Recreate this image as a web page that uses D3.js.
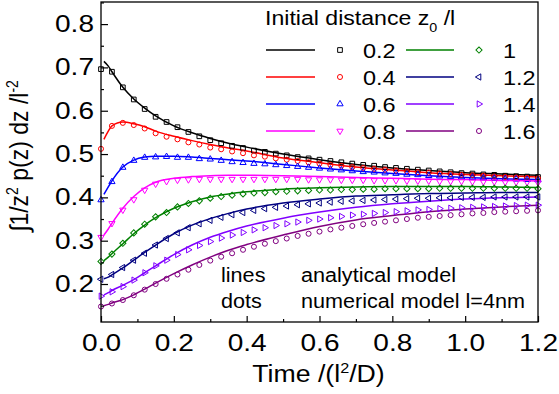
<!DOCTYPE html>
<html>
<head>
<meta charset="utf-8">
<script src="https://cdn.jsdelivr.net/npm/d3@7"></script>
<style>
  html, body { margin: 0; padding: 0; background: #fff; }
  svg { display: block; font-family: "Liberation Sans", Arial, Helvetica, sans-serif; }
</style>
</head>
<body>
<div id="chart"></div>
<script>
// ---------------- data ----------------
const seriesLabels = ["0.2", "0.4", "0.6", "0.8", "1", "1.2", "1.4", "1.6"];
const seriesColors = ["#000000", "#ff0000", "#0000ff", "#ff00ff", "#008000", "#000080", "#8000ff", "#800080"];
const seriesMarkers = ["square", "circle", "triUp", "triDown", "diamond", "triLeft", "triRight", "circle"];

// analytical model (lines)
const lineTimes = [0.008, 0.02, 0.03, 0.06, 0.09, 0.12, 0.15, 0.2, 0.25, 0.3, 0.35, 0.4, 0.5, 0.6, 0.7, 0.8, 0.9, 1.0, 1.1, 1.2];
const line02 = [0.714, 0.703, 0.690, 0.654, 0.627, 0.606, 0.588, 0.565, 0.549, 0.536, 0.525, 0.516, 0.500, 0.487, 0.476, 0.468, 0.462, 0.457, 0.454, 0.451];
const line04 = [0.534, 0.553, 0.565, 0.574, 0.570, 0.563, 0.553, 0.541, 0.531, 0.522, 0.514, 0.507, 0.491, 0.480, 0.470, 0.463, 0.457, 0.453, 0.450, 0.447];
const line06 = [0.407, 0.424, 0.438, 0.470, 0.486, 0.493, 0.495, 0.495, 0.493, 0.490, 0.487, 0.484, 0.476, 0.468, 0.461, 0.455, 0.450, 0.446, 0.443, 0.441];
const line08 = [0.313, 0.327, 0.340, 0.375, 0.402, 0.422, 0.435, 0.444, 0.448, 0.450, 0.451, 0.451, 0.450, 0.448, 0.446, 0.444, 0.442, 0.441, 0.439, 0.438];
const line10 = [0.254, 0.262, 0.270, 0.293, 0.316, 0.336, 0.353, 0.375, 0.390, 0.401, 0.408, 0.413, 0.419, 0.422, 0.424, 0.425, 0.425, 0.425, 0.424, 0.423];
const line12 = [0.212, 0.216, 0.221, 0.237, 0.255, 0.273, 0.290, 0.316, 0.336, 0.351, 0.363, 0.373, 0.387, 0.396, 0.403, 0.406, 0.409, 0.410, 0.411, 0.411];
const line14 = [0.175, 0.180, 0.185, 0.197, 0.210, 0.226, 0.242, 0.268, 0.290, 0.308, 0.322, 0.334, 0.352, 0.366, 0.377, 0.385, 0.391, 0.396, 0.399, 0.401];
const line16 = [0.150, 0.153, 0.156, 0.164, 0.175, 0.188, 0.202, 0.224, 0.244, 0.262, 0.278, 0.291, 0.313, 0.333, 0.348, 0.358, 0.367, 0.373, 0.378, 0.382];

// numerical model l=4nm (dots)
const dotTimes = [0, 0.03, 0.06, 0.09, 0.12, 0.15, 0.18, 0.21, 0.24, 0.27, 0.30, 0.33, 0.36, 0.39, 0.42, 0.45,
  0.48, 0.51, 0.54, 0.57, 0.60, 0.63, 0.66, 0.69, 0.72, 0.75, 0.78, 0.81, 0.84, 0.87, 0.90, 0.93, 0.96, 0.99,
  1.02, 1.05, 1.08, 1.11, 1.14, 1.17, 1.20];
const dot02 = [0.696, 0.690, 0.654, 0.626, 0.604, 0.586, 0.574, 0.562, 0.551, 0.541, 0.532, 0.525, 0.519, 0.514, 0.508, 0.505,
  0.501, 0.497, 0.493, 0.490, 0.487, 0.484, 0.481, 0.478, 0.475, 0.473, 0.470, 0.468, 0.466, 0.464, 0.462, 0.460, 0.458, 0.456,
  0.455, 0.453, 0.452, 0.450, 0.449, 0.448, 0.447];
const dot04 = [0.512, 0.565, 0.572, 0.567, 0.559, 0.548, 0.540, 0.534, 0.527, 0.522, 0.515, 0.511, 0.506, 0.502, 0.497, 0.494,
  0.490, 0.487, 0.484, 0.481, 0.478, 0.475, 0.473, 0.470, 0.468, 0.466, 0.464, 0.462, 0.460, 0.458, 0.457, 0.455, 0.454, 0.452,
  0.451, 0.450, 0.448, 0.447, 0.446, 0.445, 0.444];
const dot06 = [0.394, 0.436, 0.469, 0.485, 0.492, 0.493, 0.494, 0.492, 0.492, 0.489, 0.488, 0.485, 0.482, 0.480, 0.478, 0.477,
  0.475, 0.473, 0.471, 0.469, 0.467, 0.465, 0.463, 0.461, 0.459, 0.458, 0.456, 0.455, 0.453, 0.452, 0.450, 0.449, 0.448, 0.447,
  0.446, 0.445, 0.444, 0.443, 0.442, 0.441, 0.440];
const dot08 = [0.308, 0.340, 0.371, 0.395, 0.417, 0.431, 0.437, 0.440, 0.441, 0.442, 0.442, 0.442, 0.442, 0.442, 0.442, 0.442,
  0.442, 0.442, 0.442, 0.441, 0.441, 0.441, 0.440, 0.440, 0.440, 0.439, 0.439, 0.439, 0.438, 0.438, 0.438, 0.437, 0.437, 0.437,
  0.436, 0.436, 0.436, 0.435, 0.435, 0.435, 0.434];
const dot10 = [0.252, 0.269, 0.294, 0.318, 0.338, 0.355, 0.365, 0.378, 0.386, 0.392, 0.398, 0.402, 0.405, 0.408, 0.410, 0.411,
  0.413, 0.414, 0.415, 0.416, 0.417, 0.417, 0.418, 0.418, 0.419, 0.419, 0.420, 0.420, 0.420, 0.420, 0.420, 0.421, 0.421, 0.421,
  0.421, 0.421, 0.421, 0.421, 0.421, 0.421, 0.420];
const dot12 = [0.211, 0.222, 0.238, 0.255, 0.271, 0.290, 0.305, 0.318, 0.330, 0.339, 0.347, 0.354, 0.360, 0.365, 0.370, 0.374,
  0.377, 0.380, 0.383, 0.385, 0.387, 0.389, 0.391, 0.392, 0.393, 0.394, 0.395, 0.396, 0.397, 0.398, 0.398, 0.399, 0.399, 0.400,
  0.400, 0.400, 0.401, 0.401, 0.401, 0.401, 0.401];
const dot14 = [0.172, 0.182, 0.194, 0.209, 0.226, 0.242, 0.255, 0.268, 0.279, 0.289, 0.298, 0.306, 0.313, 0.319, 0.325, 0.330,
  0.335, 0.339, 0.343, 0.347, 0.350, 0.353, 0.356, 0.359, 0.361, 0.363, 0.365, 0.367, 0.369, 0.371, 0.372, 0.374, 0.375, 0.376,
  0.377, 0.378, 0.379, 0.380, 0.381, 0.382, 0.382];
const dot16 = [0.148, 0.155, 0.163, 0.174, 0.187, 0.200, 0.212, 0.222, 0.233, 0.244, 0.254, 0.263, 0.271, 0.279, 0.286, 0.293,
  0.299, 0.305, 0.311, 0.316, 0.321, 0.326, 0.330, 0.334, 0.338, 0.341, 0.344, 0.347, 0.350, 0.353, 0.355, 0.357, 0.359, 0.361,
  0.363, 0.364, 0.366, 0.367, 0.368, 0.369, 0.370];

const xTickValues = [0, 0.2, 0.4, 0.6, 0.8, 1.0, 1.2];
const xMinorValues = [0.1, 0.3, 0.5, 0.7, 0.9, 1.1];
const yTickValues = [0.2, 0.3, 0.4, 0.5, 0.6, 0.7, 0.8];
const yMinorValues = [0.15, 0.25, 0.35, 0.45, 0.55, 0.65, 0.75, 0.85];

const lineSets = [line02, line04, line06, line08, line10, line12, line14, line16];
const dotSets = [dot02, dot04, dot06, dot08, dot10, dot12, dot14, dot16];

// ---------------- drawing ----------------
const W = 559, H = 394;
const plot = { left: 101, right: 538, top: 2, bottom: 322 };

const svg = d3.select("#chart").append("svg").attr("width", W).attr("height", H);

const x = d3.scaleLinear().domain([0, 1.2]).range([plot.left, plot.right]);
const y = d3.scaleLinear().domain([0.1123, 0.851]).range([plot.bottom, plot.top]);

const series = seriesLabels.map((lab, i) => ({
  label: lab, color: seriesColors[i], marker: seriesMarkers[i],
  line: lineTimes.map((t, j) => [t, lineSets[i][j]]),
  dots: dotTimes.map((t, j) => [t, dotSets[i][j]])
}));

// text in the reference is horizontally widened; emulate with a scaleX transform
function widen(sel, sx) {
  sel.each(function () {
    const t = d3.select(this);
    const tx = +t.attr("x") || 0, ty = +t.attr("y") || 0;
    t.attr("x", 0).attr("y", 0).attr("transform", `translate(${tx},${ty}) scale(${sx},1)`);
  });
}

function markerPath(type) {
  switch (type) {
    case "square": return { p: d3.symbol(d3.symbolSquare, 22)(), r: 0 };
    case "circle": return { p: d3.symbol(d3.symbolCircle, 20)(), r: 0 };
    case "diamond": return { p: d3.symbol(d3.symbolSquare, 19)(), r: 45 };
    case "triUp": return { p: d3.symbol(d3.symbolTriangle, 17)(), r: 0 };
    case "triDown": return { p: d3.symbol(d3.symbolTriangle, 17)(), r: 180 };
    case "triLeft": return { p: d3.symbol(d3.symbolTriangle, 17)(), r: -90 };
    case "triRight": return { p: d3.symbol(d3.symbolTriangle, 17)(), r: 90 };
  }
}

const lineGen = d3.line().x(d => x(d[0])).y(d => y(d[1])).curve(d3.curveMonotoneX);

const gData = svg.append("g");
series.forEach(s => {
  gData.append("path").datum(s.line)
    .attr("d", lineGen).attr("fill", "none")
    .attr("stroke", s.color).attr("stroke-width", 1.5);
});
series.forEach(s => {
  const m = markerPath(s.marker);
  gData.selectAll(null).data(s.dots).enter().append("path")
    .attr("d", m.p)
    .attr("transform", d => `translate(${x(d[0])},${y(d[1])}) rotate(${m.r})`)
    .attr("fill", "none").attr("stroke", s.color).attr("stroke-width", 1);
});

// axes (ticks inward)
const gx = svg.append("g").attr("transform", `translate(0,${plot.bottom})`)
  .call(d3.axisBottom(x).tickValues(xTickValues).tickSize(-6).tickPadding(13)
    .tickFormat(d3.format(".1f")));
gx.append("g").call(d3.axisBottom(x).tickValues(xMinorValues).tickSize(-3).tickFormat(""));
const gy = svg.append("g").attr("transform", `translate(${plot.left},0)`)
  .call(d3.axisLeft(y).tickValues(yTickValues).tickSize(-7).tickPadding(7)
    .tickFormat(d3.format(".1f")));
gy.append("g").call(d3.axisLeft(y).tickValues(yMinorValues.filter(v => y(v) >= plot.top)).tickSize(-3).tickFormat(""));

[gx, gy].forEach(g => {
  g.selectAll(".domain").remove();
  g.selectAll("line").attr("stroke", "#000").attr("stroke-width", 1.2);
  g.selectAll("text").attr("font-size", 23).attr("fill", "#000")
    .attr("font-family", "'Liberation Sans', Arial, sans-serif");
  widen(g.selectAll("text"), 1.22);
});

// frame
svg.append("rect").attr("x", plot.left).attr("y", plot.top)
  .attr("width", plot.right - plot.left).attr("height", plot.bottom - plot.top)
  .attr("fill", "none").attr("stroke", "#000").attr("stroke-width", 1.3);

// axis titles
const xt = svg.append("text").attr("x", 318.5).attr("y", 382)
  .attr("text-anchor", "middle").attr("font-size", 23).attr("fill", "#000");
xt.append("tspan").text("Time /(l");
xt.append("tspan").attr("dy", -9).attr("font-size", 14).text("2");
xt.append("tspan").attr("dy", 9).text("/D)");
widen(xt, 1.16);

const yt = svg.append("text").attr("transform", "translate(28,156) rotate(-90) scale(1,1.12)")
  .attr("text-anchor", "middle").attr("font-size", 23).attr("fill", "#000");
yt.append("tspan").text("\u222B1/z");
yt.append("tspan").attr("dy", -9).attr("font-size", 14).text("2");
yt.append("tspan").attr("dy", 9).text(" p(z) dz /l");
yt.append("tspan").attr("dy", -9).attr("font-size", 14).text("-2");

// legend
const lg = svg.append("g");
const lt = lg.append("text").attr("x", 265).attr("y", 25).attr("font-size", 21).attr("fill", "#000");
lt.append("tspan").text("Initial distance z");
lt.append("tspan").attr("dy", 7).attr("font-size", 13).text("0");
lt.append("tspan").attr("dy", -7).text(" /l");
widen(lt, 1.1);

const rowY = [50, 77, 104, 131];
const cols = [{ l0: 266, l1: 315, m: 340, t: 363 }, { l0: 406, l1: 454, m: 479, t: 503 }];
series.forEach((s, i) => {
  const c = cols[Math.floor(i / 4)], ry = rowY[i % 4];
  lg.append("line").attr("x1", c.l0).attr("x2", c.l1).attr("y1", ry).attr("y2", ry)
    .attr("stroke", s.color).attr("stroke-width", 1.5);
  const m = markerPath(s.marker);
  lg.append("path").attr("d", m.p).attr("transform", `translate(${c.m},${ry}) rotate(${m.r})`)
    .attr("fill", "none").attr("stroke", s.color).attr("stroke-width", 1);
  const tx = lg.append("text").attr("x", c.t).attr("y", ry).attr("dy", "0.36em")
    .attr("font-size", 21).attr("fill", "#000").text(s.label);
  widen(tx, 1.12);
});

// annotation
const ann = svg.append("g").attr("font-size", 21).attr("fill", "#000");
widen(ann.append("text").attr("x", 221).attr("y", 282).text("lines"), 1.03);
widen(ann.append("text").attr("x", 301).attr("y", 282).text("analytical model"), 1.03);
widen(ann.append("text").attr("x", 221).attr("y", 308).text("dots"), 1.03);
widen(ann.append("text").attr("x", 301).attr("y", 308).text("numerical model l=4nm"), 1.03);
</script>
</body>
</html>
